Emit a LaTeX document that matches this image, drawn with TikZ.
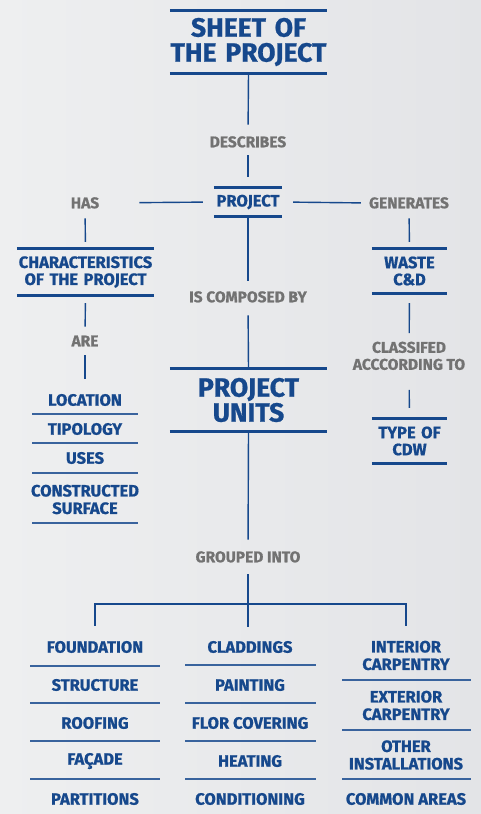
\documentclass[tikz,border=0pt]{standalone}
\usepackage{fontspec}
\setmainfont{Fira Sans}[BoldFeatures={FakeBold=0.8}]
\definecolor{cblue}{HTML}{16488C}
\definecolor{cgray}{HTML}{727272}
\definecolor{bgl}{HTML}{EEEFF0}
\definecolor{bgr}{HTML}{E3E4E7}
\tikzset{
  big/.style={font=\fontsize{26.5}{25}\selectfont\bfseries, text=cblue, align=center, inner sep=0pt},
  hd/.style={font=\fontsize{16.5}{17}\selectfont\bfseries, text=cblue, align=center, inner sep=0pt},
  item/.style={font=\fontsize{16.5}{17.5}\selectfont\bfseries, text=cblue, align=center, inner sep=0pt},
  lbl/.style={font=\fontsize{15.5}{17}\selectfont\bfseries, text=cgray, align=center, inner sep=0pt, text height=10.5pt, text depth=0pt},
  thick rule/.style={draw=cblue, line width=3pt},
  sep rule/.style={draw=cblue!85, line width=1.6pt},
  conn/.style={draw=cblue, line width=1.4pt},
}
\begin{document}
\begin{tikzpicture}[x=1pt,y=-1pt]
\shade[left color=bgl, right color=bgr] (0,0) rectangle (481,814);
\useasboundingbox (0,0) rectangle (481,814);

% headings with rules
\node[big, text width=157pt, minimum height=62pt] (title) at (248.5,42) {SHEET OF\\THE PROJECT};
\node[hd, text width=68pt, minimum height=28pt] (project) at (248,202) {PROJECT};
\node[hd, text width=137pt, minimum height=46pt] (char) at (85.5,272) {CHARACTERISTICS\\OF THE PROJECT};
\node[hd, text width=75pt, minimum height=44pt] (waste) at (409.5,271) {WASTE\\C\&D};
\node[hd, text width=75pt, minimum height=44pt] (cdw) at (409.5,441) {TYPE OF\\CDW};
\node[big, text width=157pt, minimum height=62pt] (units) at (248.5,400) {PROJECT\\UNITS};
\foreach \n in {title,project,char,waste,cdw,units}{
  \draw[thick rule] (\n.north west) -- (\n.north east);
  \draw[thick rule] (\n.south west) -- (\n.south east);
}

% gray labels
\node[lbl] (describes) at (248,142) {DESCRIBES};
\node[lbl] (has) at (85,203) {HAS};
\node[lbl] (generates) at (409,203) {GENERATES};
\node[lbl] (are) at (85,341) {ARE};
\node[lbl] (classified) at (409,364.5) {CLASSIFED\\ACCCORDING TO};
\node[lbl] (composed) at (248,297) {IS COMPOSED BY};
\node[lbl] (grouped) at (248,557) {GROUPED INTO};

% characteristics list
\node[item] (location) at (85,400) {LOCATION};
\node[item] (tipology) at (85,429) {TIPOLOGY};
\node[item] (uses) at (85,458) {USES};
\node[item] (constructed) at (85,499.5) {CONSTRUCTED\\SURFACE};
\foreach \y in {414,443,473,523}{ \draw[sep rule] (32,\y) -- (138,\y); }

% bottom columns
\node[item] (foundation) at (95,647) {FOUNDATION};
\node[item] (structure) at (95,685) {STRUCTURE};
\node[item] (roofing) at (95,723) {ROOFING};
\node[item] (facade) at (95,761) {FAÇADE};
\node[item] (partitions) at (95,799) {PARTITIONS};
\foreach \y in {666,703,741,779}{ \draw[sep rule] (30,\y) -- (160,\y); }

\node[item] (claddings) at (250,647) {CLADDINGS};
\node[item] (painting) at (250,685) {PAINTING};
\node[item] (flor) at (250,723) {FLOR COVERING};
\node[item] (heating) at (250,761) {HEATING};
\node[item] (conditioning) at (250,799) {CONDITIONING};
\foreach \y in {665,703,741,779}{ \draw[sep rule] (185,\y) -- (316,\y); }

\node[item] (interior) at (406,655.5) {INTERIOR\\CARPENTRY};
\node[item] (exterior) at (406,705.5) {EXTERIOR\\CARPENTRY};
\node[item] (other) at (406,755) {OTHER\\INSTALLATIONS};
\node[item] (common) at (406,799) {COMMON AREAS};
\foreach \y in {680,730,779}{ \draw[sep rule] (342,\y) -- (471,\y); }

% connectors
\draw[conn, shorten >=12pt] (title.south) -- (describes.north);
\draw[conn, shorten <=8pt, shorten >=11pt] (describes.south) -- (project.north);
\draw[conn, shorten <=11pt, shorten >=40pt] (project.west) -- (has.east);
\draw[conn, shorten <=11pt, shorten >=8pt] (project.east) -- (generates.west);
\draw[conn, shorten <=10pt, shorten >=7pt] (has.south) -- (char.north);
\draw[conn, shorten <=10pt, shorten >=7pt] (generates.south) -- (waste.north);
\draw[conn, shorten <=8pt, shorten >=9pt] (char.south) -- (are.north);
\draw[conn, shorten <=9pt, shorten >=15pt] (are.south) -- (location.north);
\draw[conn, shorten <=10pt, shorten >=26pt] (waste.south) -- (classified.north);
\draw[conn, shorten <=20pt, shorten >=11pt] (classified.south) -- (cdw.north);
\draw[conn, shorten >=11pt] (project.south) -- (composed.north);
\draw[conn, shorten <=13pt] (composed.south) -- (units.north);
\draw[conn, shorten >=12pt] (units.south) -- (grouped.north);
\coordinate (tee) at (248,604);
\draw[conn, shorten <=12pt] (grouped.south) -- (tee);
\draw[conn, shorten >=15pt] (tee) -| (foundation.north);
\draw[conn, shorten >=15pt] (tee) -| (interior.north);
\draw[conn] (tee) -- (248,627);
\end{tikzpicture}
\end{document}
